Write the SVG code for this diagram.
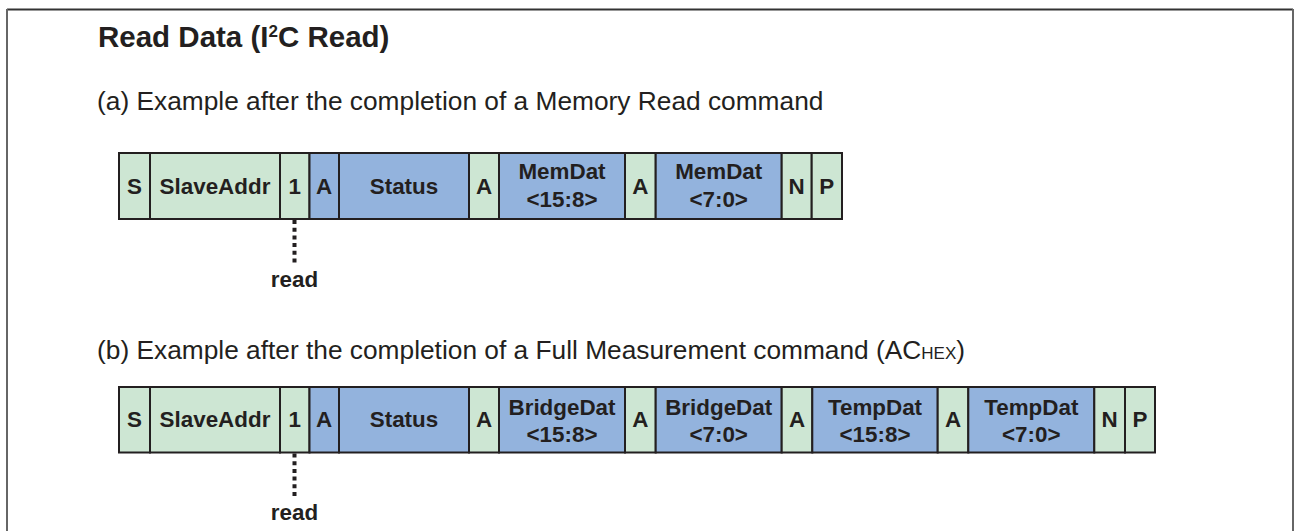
<svg xmlns="http://www.w3.org/2000/svg" width="1297" height="531" viewBox="0 0 1297 531">
<style>
.g{fill:#cde6d3;stroke:#231f20;stroke-width:2}
.b{fill:#93b3dd;stroke:#231f20;stroke-width:2}
.t{font-family:"Liberation Sans",Arial,sans-serif;font-weight:bold;font-size:22.4px;fill:#231f20;text-anchor:middle}
.h{font-family:"Liberation Sans",Arial,sans-serif;font-size:26.3px;fill:#231f20}
.ti{font-family:"Liberation Sans",Arial,sans-serif;font-weight:bold;font-size:29.5px;fill:#231f20}
.dot{stroke:#231f20;stroke-width:4;stroke-dasharray:4 3.7;fill:none}
</style>
<rect x="0" y="0" width="1297" height="531" fill="#fff"/>
<g id="frame">
<line x1="7" y1="9.5" x2="1293" y2="9.5" stroke="#333" stroke-width="2"/>
<line x1="7" y1="9" x2="7" y2="531" stroke="#666" stroke-width="2"/>
<line x1="1293" y1="9" x2="1293" y2="531" stroke="#666" stroke-width="2"/>
</g>
<text class="ti" x="98" y="47">Read Data (I<tspan font-size="17" dy="-10">2</tspan><tspan dy="10">C Read)</tspan></text>
<text class="h" x="97" y="110">(a) Example after the completion of a Memory Read command</text>
<text class="h" x="97" y="358.5">(b) Example after the completion of a Full Measurement command (AC<tspan font-size="17">HEX</tspan>)</text>

<g id="rowA">
<g id="a-S"><rect class="g" x="119" y="153" width="31" height="66"/><text class="t" x="134.5" y="193.5">S</text></g>
<g id="a-SlaveAddr"><rect class="g" x="150" y="153" width="130" height="66"/><text class="t" x="215" y="193.5">SlaveAddr</text></g>
<g id="a-1"><rect class="g" x="280" y="153" width="29.5" height="66"/><text class="t" x="294.7" y="193.5">1</text></g>
<g id="a-A1"><rect class="b" x="309.5" y="153" width="29.5" height="66"/><text class="t" x="324.2" y="193.5">A</text></g>
<g id="a-Status"><rect class="b" x="339" y="153" width="130" height="66"/><text class="t" x="404" y="193.5">Status</text></g>
<g id="a-A2"><rect class="g" x="469" y="153" width="30" height="66"/><text class="t" x="484" y="193.5">A</text></g>
<g id="a-MemDat1"><rect class="b" x="499" y="153" width="126" height="66"/><text class="t" x="562" y="179.3">MemDat</text><text class="t" x="562" y="206.7">&lt;15:8&gt;</text></g>
<g id="a-A3"><rect class="g" x="625" y="153" width="30.7" height="66"/><text class="t" x="640.3" y="193.5">A</text></g>
<g id="a-MemDat2"><rect class="b" x="655.7" y="153" width="126" height="66"/><text class="t" x="718.7" y="179.3">MemDat</text><text class="t" x="718.7" y="206.7">&lt;7:0&gt;</text></g>
<g id="a-N"><rect class="g" x="781.7" y="153" width="30" height="66"/><text class="t" x="796.7" y="193.5">N</text></g>
<g id="a-P"><rect class="g" x="811.7" y="153" width="30.3" height="66"/><text class="t" x="826.8" y="193.5">P</text></g>
<g id="a-read"><text class="t" x="294.5" y="286.7">read</text></g>
</g>

<g id="rowB">
<g id="b-S"><rect class="g" x="119" y="387" width="31" height="65.5"/><text class="t" x="134.5" y="427">S</text></g>
<g id="b-SlaveAddr"><rect class="g" x="150" y="387" width="130" height="65.5"/><text class="t" x="215" y="427">SlaveAddr</text></g>
<g id="b-1"><rect class="g" x="280" y="387" width="29.5" height="65.5"/><text class="t" x="294.7" y="427">1</text></g>
<g id="b-A1"><rect class="b" x="309.5" y="387" width="29.5" height="65.5"/><text class="t" x="324.2" y="427">A</text></g>
<g id="b-Status"><rect class="b" x="339" y="387" width="130" height="65.5"/><text class="t" x="404" y="427">Status</text></g>
<g id="b-A2"><rect class="g" x="469" y="387" width="30" height="65.5"/><text class="t" x="484" y="427">A</text></g>
<g id="b-Bridge1"><rect class="b" x="499" y="387" width="126" height="65.5"/><text class="t" x="562" y="415">BridgeDat</text><text class="t" x="562" y="441.7">&lt;15:8&gt;</text></g>
<g id="b-A3"><rect class="g" x="625" y="387" width="30.7" height="65.5"/><text class="t" x="640.3" y="427">A</text></g>
<g id="b-Bridge2"><rect class="b" x="655.7" y="387" width="126" height="65.5"/><text class="t" x="718.7" y="415">BridgeDat</text><text class="t" x="718.7" y="441.7">&lt;7:0&gt;</text></g>
<g id="b-A4"><rect class="g" x="781.7" y="387" width="30.6" height="65.5"/><text class="t" x="797" y="427">A</text></g>
<g id="b-Temp1"><rect class="b" x="812.3" y="387" width="125.4" height="65.5"/><text class="t" x="875" y="415">TempDat</text><text class="t" x="875" y="441.7">&lt;15:8&gt;</text></g>
<g id="b-A5"><rect class="g" x="937.7" y="387" width="30.6" height="65.5"/><text class="t" x="953" y="427">A</text></g>
<g id="b-Temp2"><rect class="b" x="968.3" y="387" width="126" height="65.5"/><text class="t" x="1031.3" y="415">TempDat</text><text class="t" x="1031.3" y="441.7">&lt;7:0&gt;</text></g>
<g id="b-N"><rect class="g" x="1094.3" y="387" width="30.7" height="65.5"/><text class="t" x="1109.6" y="427">N</text></g>
<g id="b-P"><rect class="g" x="1125" y="387" width="30" height="65.5"/><text class="t" x="1140" y="427">P</text></g>
<g id="b-read"><text class="t" x="294.5" y="520">read</text></g>
</g>

<g id="connectors">
<line class="dot" x1="294.5" y1="220" x2="294.5" y2="264"/>
<line class="dot" x1="294.5" y1="453.5" x2="294.5" y2="497.5"/>
</g>
</svg>
